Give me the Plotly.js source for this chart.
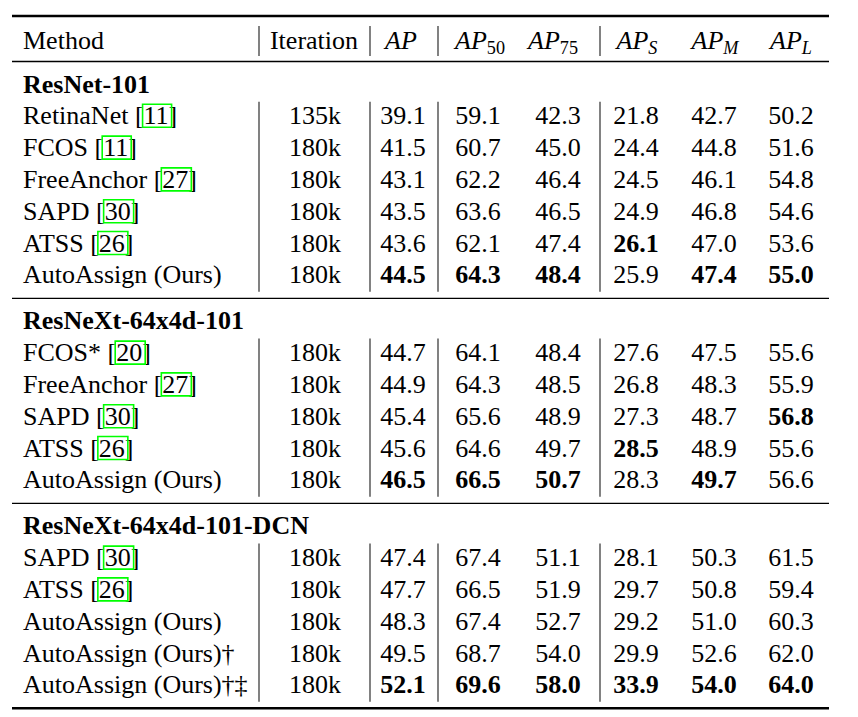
<!DOCTYPE html>
<html>
<head>
<meta charset="utf-8">
<script src="https://cdn.plot.ly/plotly-3.0.1.min.js"></script>
<style>html,body{margin:0;padding:0;background:#fff;}#chart{width:858px;height:717px;}</style>
</head>
<body>
<div id="chart"></div>
<script>
// ---------------- DATA ----------------
const headers = ["Method", "Iteration", "<i>AP</i>", "<i>AP</i><sub>50</sub>", "<i>AP</i><sub>75</sub>",
                 "<i>AP</i><sub><i>S</i></sub>", "<i>AP</i><sub><i>M</i></sub>", "<i>AP</i><sub><i>L</i></sub>"];
const groups = ["ResNet-101", "ResNeXt-64x4d-101", "ResNeXt-64x4d-101-DCN"];
const groupOf = [0,0,0,0,0,0, 1,1,1,1,1, 2,2,2,2,2];
const methods = ["RetinaNet", "FCOS", "FreeAnchor", "SAPD", "ATSS", "AutoAssign (Ours)",
                 "FCOS*", "FreeAnchor", "SAPD", "ATSS", "AutoAssign (Ours)",
                 "SAPD", "ATSS", "AutoAssign (Ours)", "AutoAssign (Ours)†", "AutoAssign (Ours)†‡"];
const refs = ["11", "11", "27", "30", "26", "",
              "20", "27", "30", "26", "",
              "30", "26", "", "", ""];
const iterations = ["135k","180k","180k","180k","180k","180k",
                    "180k","180k","180k","180k","180k",
                    "180k","180k","180k","180k","180k"];
const AP   = [39.1, 41.5, 43.1, 43.5, 43.6, 44.5,  44.7, 44.9, 45.4, 45.6, 46.5,  47.4, 47.7, 48.3, 49.5, 52.1];
const AP50 = [59.1, 60.7, 62.2, 63.6, 62.1, 64.3,  64.1, 64.3, 65.6, 64.6, 66.5,  67.4, 66.5, 67.4, 68.7, 69.6];
const AP75 = [42.3, 45.0, 46.4, 46.5, 47.4, 48.4,  48.4, 48.5, 48.9, 49.7, 50.7,  51.1, 51.9, 52.7, 54.0, 58.0];
const APS  = [21.8, 24.4, 24.5, 24.9, 26.1, 25.9,  27.6, 26.8, 27.3, 28.5, 28.3,  28.1, 29.7, 29.2, 29.9, 33.9];
const APM  = [42.7, 44.8, 46.1, 46.8, 47.0, 47.4,  47.5, 48.3, 48.7, 48.9, 49.7,  50.3, 50.8, 51.0, 52.6, 54.0];
const APL  = [50.2, 51.6, 54.8, 54.6, 53.6, 55.0,  55.6, 55.9, 56.8, 55.6, 56.6,  61.5, 59.4, 60.3, 62.0, 64.0];
const metrics = [AP, AP50, AP75, APS, APM, APL];

// ---------------- LAYOUT CONSTANTS ----------------
const FONT = "'Liberation Serif', 'Times New Roman', Times, serif";
const FS = 26;
const W = 858, H = 717;
const tableLeft = 12, tableRight = 829;
const methodX = 23;
const iterX = 315;
const metricX = [403, 478, 558, 636, 714, 791];
const headerX = [methodX, 314, 401, 480, 553, 637, 715, 791];
const vlineX = [259, 370, 438, 600];
const topRuleY = 16, headerC = 40, firstMidRule = 61.5;
const pitch = 31.8, ruleToGroup = 22.5, lastToRule = 23.5;
const textDY = 2;

// compute row centres
const groupY = [], rowY = [], ruleY = [topRuleY, firstMidRule];
let cur = firstMidRule;
groups.forEach((g, gi) => {
  const gy = cur + ruleToGroup;
  groupY.push(gy);
  let k = 0, last = gy;
  groupOf.forEach((go, i) => { if (go === gi) { k++; rowY[i] = gy + pitch * k; last = rowY[i]; } });
  cur = last + lastToRule;
  ruleY.push(cur);
});

// bold = best value within its group
function isBest(arr, i) {
  const g = groupOf[i];
  let m = -Infinity;
  arr.forEach((v, j) => { if (groupOf[j] === g && v > m) m = v; });
  return arr[i] === m;
}

const ctx = document.createElement('canvas').getContext('2d');
ctx.font = FS + 'px ' + FONT;
const tw = s => ctx.measureText(s).width;

const baseFont = {family: FONT, size: FS, color: "#000", weight: 400};
const traces = [];
function textTrace(xs, ys, texts, pos) {
  traces.push({type: "scatter", mode: "text", x: xs, y: ys.map(v => v + textDY), text: texts,
               textposition: pos, textfont: baseFont, hoverinfo: "skip", showlegend: false, cliponaxis: false});
}

// header
textTrace([headerX[0]], [headerC], [headers[0]], "middle right");
textTrace(headerX.slice(1), headerX.slice(1).map(() => headerC), headers.slice(1), "middle center");
// group titles
textTrace(groups.map(() => methodX), groupY, groups.map(g => "<b>" + g + "</b>"), "middle right");
// methods
textTrace(methods.map(() => methodX), rowY,
          methods.map((m, i) => refs[i] ? m + " [" + refs[i] + "]" : m), "middle right");
// iterations
textTrace(iterations.map(() => iterX), rowY, iterations, "middle center");
// metric columns
metrics.forEach((arr, ci) => {
  textTrace(arr.map(() => metricX[ci]), rowY,
            arr.map((v, i) => isBest(arr, i) ? "<b>" + v.toFixed(1) + "</b>" : v.toFixed(1)), "middle center");
});

// shapes: rules
const shapes = [];
ruleY.forEach((y, i) => {
  const heavy = (i === 0 || i === ruleY.length - 1);
  shapes.push({type: "line", xref: "x", yref: "y", x0: tableLeft, x1: tableRight, y0: y, y1: y,
               line: {color: "#000", width: heavy ? 2.4 : 1.3}});
});
// vertical lines: header + each group's data rows
const spans = [[headerC - 14, headerC + 16]];
groups.forEach((g, gi) => {
  const ys = rowY.filter((y, i) => groupOf[i] === gi);
  spans.push([ys[0] - 14, ys[ys.length - 1] + 17]);
});
spans.forEach(sp => vlineX.forEach(x => {
  shapes.push({type: "line", xref: "x", yref: "y", x0: x, x1: x, y0: sp[0], y1: sp[1],
               line: {color: "#1a1a1a", width: 1.1}});
}));
// green citation link boxes
methods.forEach((m, i) => {
  if (!refs[i]) return;
  const x0 = methodX + tw(m + " [");
  const x1 = x0 + tw(refs[i]);
  shapes.push({type: "rect", xref: "x", yref: "y", x0: x0 - 1, x1: x1 + 3,
               y0: rowY[i] - 11.5, y1: rowY[i] + 11.5,
               line: {color: "#00ff00", width: 1.6}, fillcolor: "rgba(0,0,0,0)"});
});

const layout = {
  width: W, height: H, margin: {l: 0, r: 0, t: 0, b: 0, pad: 0},
  paper_bgcolor: "#fff", plot_bgcolor: "#fff", showlegend: false, hovermode: false,
  xaxis: {range: [0, W], visible: false, fixedrange: true},
  yaxis: {range: [H, 0], visible: false, fixedrange: true},
  shapes: shapes
};
Plotly.newPlot("chart", traces, layout, {staticPlot: true, displayModeBar: false});
</script>
</body>
</html>
